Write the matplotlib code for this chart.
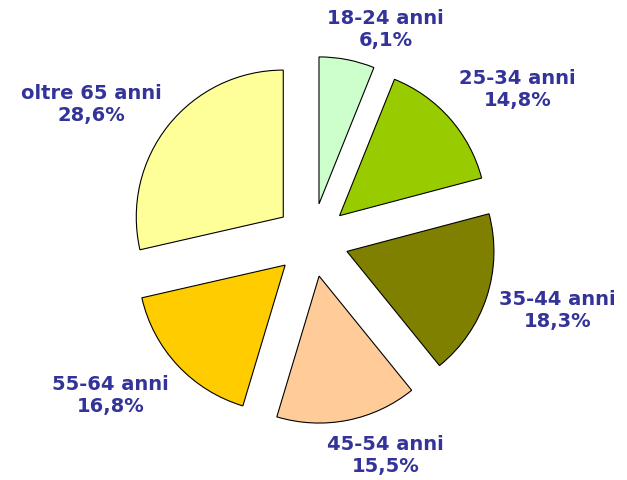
"""
Torta esplosa: distribuzione per fasce d'eta'
"""

import matplotlib.pyplot as plt

# Dati del grafico
categories = ["18-24 anni", "25-34 anni", "35-44 anni",
              "45-54 anni", "55-64 anni", "oltre 65 anni"]
values = [6.1, 14.8, 18.3, 15.5, 16.8, 28.6]
colors = ["#CCFFCC", "#99CC00", "#808000", "#FFCC99", "#FFCC00", "#FFFF99"]

# Posizione del centro di ogni etichetta (unita' del raggio)
label_pos = [(0.50, 1.44), (1.40, 1.03), (1.67, -0.47),
             (0.50, -1.46), (-1.37, -1.05), (-1.50, 0.93)]


def main():
    fig = plt.figure(figsize=(6.27, 4.81), dpi=100)
    ax = fig.add_axes([0, 0, 1, 1])

    ax.pie(values, colors=colors, startangle=90, counterclock=False,
           explode=[0.25] * len(values), radius=1.0,
           wedgeprops=dict(edgecolor="black", linewidth=0.8))

    # Etichette: categoria + percentuale con virgola decimale
    for cat, val, (x, y) in zip(categories, values, label_pos):
        txt = "%s\n%s%%" % (cat, ("%.1f" % val).replace(".", ","))
        ax.text(x, y, txt, ha="center", va="center", fontsize=14,
                fontweight="bold", color="#333399", family="DejaVu Sans",
                linespacing=1.2)

    # Scala: 147 px per unita' di raggio, centro in (312, 241) px
    ax.set_xlim(-312 / 147, (627 - 312) / 147)
    ax.set_ylim(-(481 - 241) / 147, 241 / 147)
    ax.set_aspect("equal")
    ax.axis("off")

    plt.savefig("out.png", dpi=100)
    plt.close(fig)


if __name__ == "__main__":
    main()
